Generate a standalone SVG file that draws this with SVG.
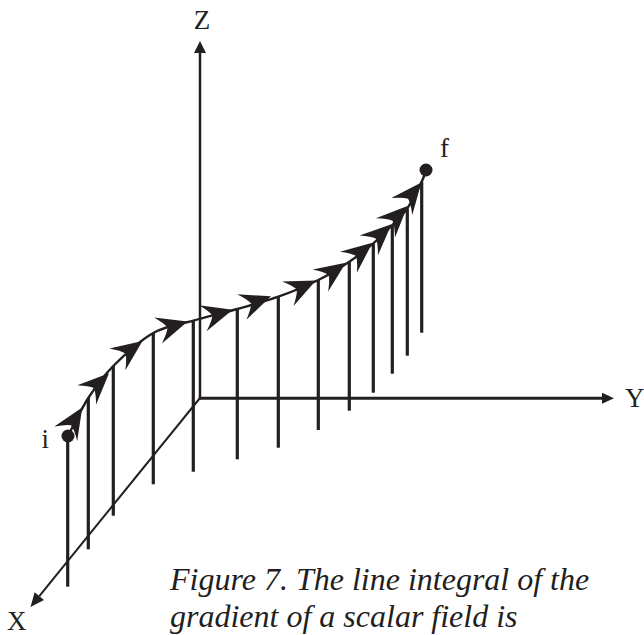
<svg xmlns="http://www.w3.org/2000/svg" xmlns:xlink="http://www.w3.org/1999/xlink" width="644" height="635" viewBox="0 0 644 635">
<style>
.ax{stroke:#231f20;fill:none;stroke-linecap:butt}
.drop{stroke:#231f20;stroke-width:3.2;fill:none}
.curve{stroke:#231f20;stroke-width:2.4;fill:none}
.fill{fill:#231f20;stroke:none}
.lbl{font-family:"Liberation Serif","Times New Roman",serif;font-size:27px;fill:#231f20}
.cap{font-family:"Liberation Serif","Times New Roman",serif;font-size:32px;font-style:italic;fill:#231f20}
</style>
<defs>
<path id="ah" d="M1,0 L-30,-13.5 Q-22,-5 -20,0 Q-22,5 -30,13.5 Z" fill="#231f20"/>
</defs>
<rect width="644" height="635" fill="#ffffff"/>
<g id="axes">
<g id="axis-z">
<line class="ax" x1="200" y1="399.5" x2="200" y2="52" stroke-width="2.5"/>
<polygon class="fill" points="200,41 206,53 194,53"/>
</g>
<g id="axis-y">
<line class="ax" x1="198.8" y1="398.3" x2="603" y2="398.3" stroke-width="3"/>
<polygon class="fill" points="614,398.3 602,392.8 602,403.8"/>
</g>
<g id="axis-x">
<line class="ax" x1="200" y1="398" x2="39.3" y2="596.1" stroke-width="2"/>
<polygon class="fill" points="30.5,607 43.96,599.9 34.64,592.3"/>
</g>
</g>
<g id="drops">
<line class="drop" x1="67.7" y1="436" x2="67.7" y2="586.7"/>
<line class="drop" x1="88.3" y1="398" x2="88.3" y2="549.3"/>
<line class="drop" x1="113.3" y1="366" x2="113.3" y2="515.7"/>
<line class="drop" x1="153.3" y1="333" x2="153.3" y2="484.3"/>
<line class="drop" x1="193.3" y1="320.7" x2="193.3" y2="471.7"/>
<line class="drop" x1="237.3" y1="309" x2="237.3" y2="459.3"/>
<line class="drop" x1="278.3" y1="296.7" x2="278.3" y2="447.7"/>
<line class="drop" x1="318.3" y1="280" x2="318.3" y2="430"/>
<line class="drop" x1="349.3" y1="261.7" x2="349.3" y2="410.7"/>
<line class="drop" x1="373.3" y1="243.3" x2="373.3" y2="392.7"/>
<line class="drop" x1="392.3" y1="225" x2="392.3" y2="373.7"/>
<line class="drop" x1="407.3" y1="208.3" x2="407.3" y2="355.7"/>
<line class="drop" x1="421.7" y1="181.7" x2="421.7" y2="332.7"/>
</g>
<g id="path-curve">
<path class="curve" d="M68,436 C71.38,429.67 80.75,409.67 88.3,398 C95.85,386.33 102.47,376.83 113.3,366 C124.13,355.17 139.97,340.55 153.3,333 C166.63,325.45 179.3,324.7 193.3,320.7 C207.3,316.7 223.13,313 237.3,309 C251.47,305 264.8,301.53 278.3,296.7 C291.8,291.87 306.47,285.83 318.3,280 C330.13,274.17 340.13,267.82 349.3,261.7 C358.47,255.58 366.13,249.42 373.3,243.3 C380.47,237.18 386.63,230.83 392.3,225 C397.97,219.17 402.4,215.52 407.3,208.3 C412.2,201.08 418.58,188.08 421.7,181.7 C424.82,175.32 425.28,171.95 426,170"/>
</g>
<g id="arrowheads">
<use xlink:href="#ah" href="#ah" transform="translate(81.7,408.3) rotate(-58)"/>
<use xlink:href="#ah" href="#ah" transform="translate(108.3,374) rotate(-44)"/>
<use xlink:href="#ah" href="#ah" transform="translate(141.7,341.7) rotate(-36)"/>
<use xlink:href="#ah" href="#ah" transform="translate(186.7,321.7) rotate(-17)"/>
<use xlink:href="#ah" href="#ah" transform="translate(231.7,310) rotate(-16)"/>
<use xlink:href="#ah" href="#ah" transform="translate(270,296.7) rotate(-20)"/>
<use xlink:href="#ah" href="#ah" transform="translate(315,281) rotate(-25)"/>
<use xlink:href="#ah" href="#ah" transform="translate(345,263.3) rotate(-35)"/>
<use xlink:href="#ah" href="#ah" transform="translate(371.7,243.3) rotate(-39)"/>
<use xlink:href="#ah" href="#ah" transform="translate(390.7,225) rotate(-43)"/>
<use xlink:href="#ah" href="#ah" transform="translate(406.7,206.7) rotate(-45)"/>
<use xlink:href="#ah" href="#ah" transform="translate(420.7,183.3) rotate(-51)"/>
</g>
<g id="point-i">
<circle class="fill" cx="68" cy="436" r="6.5"/>
<text class="lbl" x="41.5" y="448">i</text>
</g>
<g id="point-f">
<circle class="fill" cx="426" cy="170" r="6.5"/>
<text class="lbl" x="440" y="157">f</text>
</g>
<g id="labels">
<text class="lbl" x="202" y="29" text-anchor="middle">Z</text>
<text class="lbl" x="625" y="406.5">Y</text>
<text class="lbl" x="7" y="630">X</text>
</g>
<g id="caption">
<text class="cap" x="170" y="590">Figure 7. The line integral of the</text>
<text class="cap" x="170" y="627">gradient of a scalar field is</text>
</g>
</svg>
